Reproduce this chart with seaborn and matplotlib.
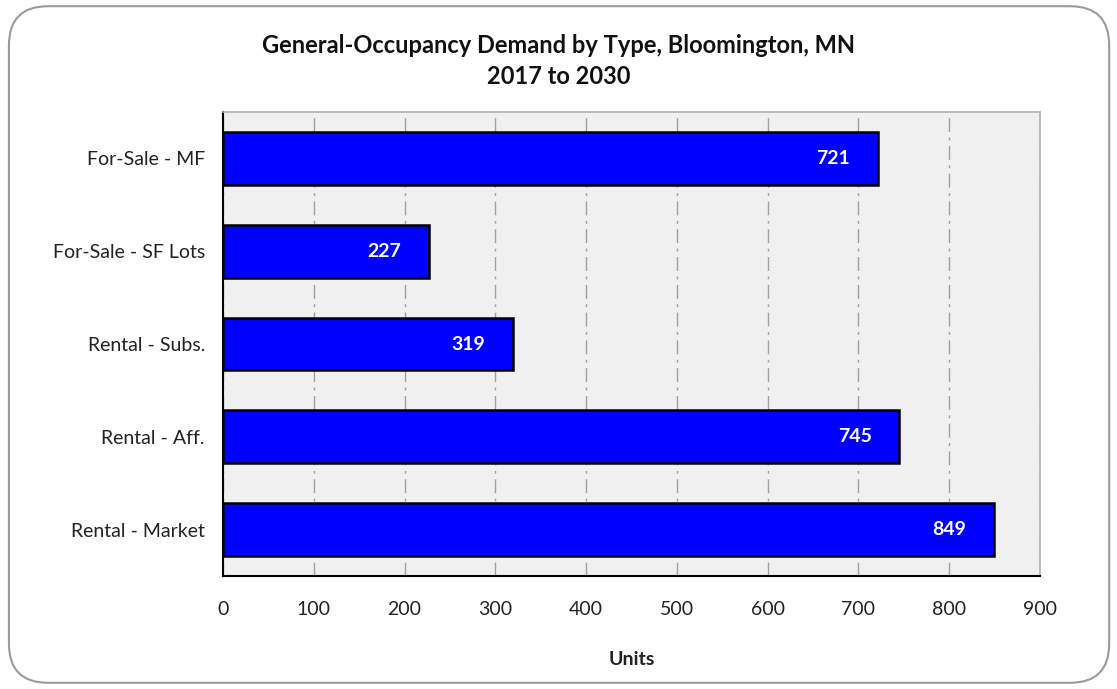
import matplotlib
matplotlib.use("Agg")
import matplotlib.pyplot as plt
from matplotlib.patches import FancyBboxPatch
import seaborn as sns
import pandas as pd

categories = ["For-Sale - MF", "For-Sale - SF Lots", "Rental - Subs.", "Rental - Aff.", "Rental - Market"]
units = [721, 227, 319, 745, 849]
x_ticks = [0, 100, 200, 300, 400, 500, 600, 700, 800, 900]

df = pd.DataFrame({"Type": categories, "Units": units})

sns.set_theme(style="white")
plt.rcParams["font.family"] = ["Lato", "DejaVu Sans"]

fig = plt.figure(figsize=(11.17, 6.89), dpi=100)
fig.patch.set_facecolor("white")

# rounded frame around the whole chart
frame = FancyBboxPatch((0.008, 0.009), 0.985, 0.982,
                       boxstyle="round,pad=0,rounding_size=0.035",
                       transform=fig.transFigure, facecolor="none",
                       edgecolor="#9a9a9a", linewidth=1.5, zorder=-1,
                       mutation_aspect=1117 / 689)
fig.patches.append(frame)

ax = fig.add_axes([0.1996, 0.164, 0.7315, 0.6734])
ax.set_facecolor("#f0f0f0")

sns.barplot(data=df, y="Type", x="Units", orient="h", color="#0000ff",
            edgecolor="black", linewidth=1.8, width=0.57, saturation=1, ax=ax, zorder=3)

ax.set_xlim(0, 900)
ax.set_ylim(4.5, -0.5)
ax.set_xticks(x_ticks)
ax.set_xticklabels([str(t) for t in x_ticks], fontsize=14, color="#222222")
ax.tick_params(axis="x", direction="out", length=6, width=1.2, color="black", pad=12)

# category ticks sit between bars
ax.set_yticks(range(len(categories)))
ax.set_yticklabels(categories, fontsize=14, color="#222222")
ax.set_yticks([i - 0.5 for i in range(len(categories) + 1)], minor=True)
ax.tick_params(axis="y", which="major", length=0, pad=13)
ax.tick_params(axis="y", which="minor", direction="out", length=6, width=1.2, color="black")

ax.xaxis.grid(True, color="#a0a0a0", linestyle=(0, (10, 4, 2, 4)), linewidth=1.0, zorder=0)
ax.set_axisbelow(True)

for side in ["left", "bottom"]:
    ax.spines[side].set_color("black")
    ax.spines[side].set_linewidth(1.5)
for side in ["top", "right"]:
    ax.spines[side].set_color("#b0b0b0")
    ax.spines[side].set_linewidth(1.2)

ax.set_ylabel("")
ax.set_xlabel("Units", fontsize=14, fontweight="bold", labelpad=24, color="#222222")

for i, v in enumerate(units):
    ax.annotate(f"{v}", xy=(v, i), xytext=(-20, 0), textcoords="offset points",
                ha="right", va="center", color="white", fontsize=14, fontweight="bold", zorder=5)

fig.text(0.5, 0.934, "General-Occupancy Demand by Type, Bloomington, MN",
         ha="center", va="center", fontsize=17, fontweight="bold", color="#111111")
fig.text(0.5, 0.889, "2017 to 2030",
         ha="center", va="center", fontsize=17, fontweight="bold", color="#111111")

fig.savefig("out.png", dpi=100, facecolor="white")
